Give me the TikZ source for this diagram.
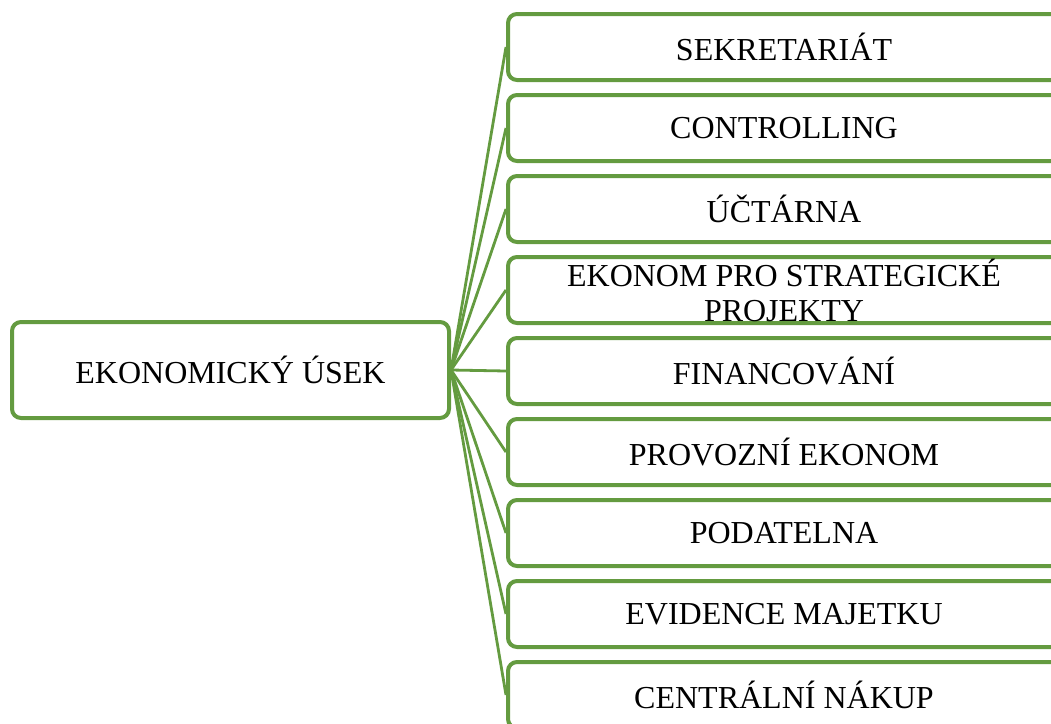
\documentclass[tikz,border=0pt]{standalone}
\usepackage{fontspec}
\setmainfont{Liberation Serif}
\usetikzlibrary{backgrounds}
\definecolor{grn}{RGB}{100,155,64}
\tikzset{
  box/.style={draw=grn, line width=4pt, rounded corners=9pt, fill=white, inner sep=0pt,
    font=\fontsize{32}{35}\selectfont, align=center, text=black},
  leftbox/.style={box, minimum width=437pt, minimum height=96pt},
  rightbox/.style={box, minimum width=552pt, minimum height=66pt},
  conn/.style={draw=grn, line width=2.8pt}
}
\begin{document}
\begin{tikzpicture}[x=1pt,y=-1pt]
\useasboundingbox (0,0) rectangle (1051,723);
\clip (0,0) rectangle (1051,723);
\node[leftbox] (L) at (230.5,370) {EKONOMICKÝ ÚSEK};
\node[rightbox] (r1) at (784,47) {SEKRETARIÁT};
\node[rightbox] (r2) at (784,128) {CONTROLLING};
\node[rightbox] (r3) at (784,209) {ÚČTÁRNA};
\node[rightbox] (r4) at (784,290) {EKONOM PRO STRATEGICKÉ\\PROJEKTY};
\node[rightbox] (r5) at (784,371) {FINANCOVÁNÍ};
\node[rightbox] (r6) at (784,452) {PROVOZNÍ EKONOM};
\node[rightbox] (r7) at (784,533) {PODATELNA};
\node[rightbox] (r8) at (784,614) {EVIDENCE MAJETKU};
\node[rightbox] (r9) at (784,695) {CENTRÁLNÍ NÁKUP};
\begin{pgfonlayer}{background}
\foreach \i in {1,...,9}{
  \draw[conn] (L.east) -- (r\i.west);
}
\end{pgfonlayer}
\end{tikzpicture}
\end{document}
